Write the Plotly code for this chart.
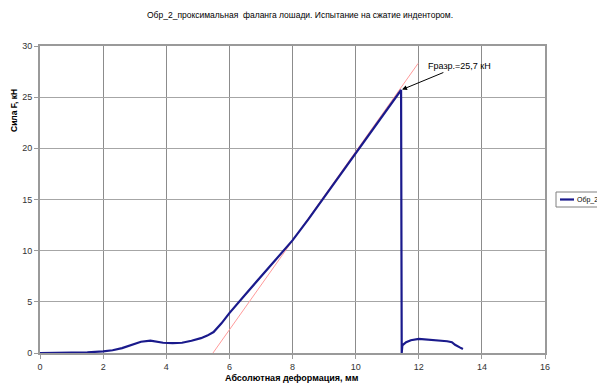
import plotly.graph_objects as go

# --- data ---
deform = [0, 0.5, 1.0, 1.5, 2.0, 2.3, 2.6, 2.9, 3.2, 3.5, 3.7, 3.9, 4.2, 4.5, 4.8, 5.1,
          5.3, 5.5, 5.75, 6.0, 6.5, 7.0, 7.5, 8.0, 8.5, 9.0, 9.5, 10.0, 10.5, 11.0, 11.44,
          11.46, 11.48, 11.6, 11.75, 12.0, 12.3, 12.6, 12.9, 13.05, 13.15, 13.3, 13.4]
force = [0, 0.01, 0.03, 0.07, 0.15, 0.27, 0.48, 0.82, 1.1, 1.2, 1.1, 1.0, 0.96, 1.0, 1.2, 1.45,
         1.7, 2.05, 2.9, 3.9, 5.7, 7.5, 9.3, 11.0, 13.05, 15.2, 17.4, 19.6, 21.75, 23.9, 25.7,
         0.0, 0.75, 1.05, 1.25, 1.37, 1.3, 1.27, 1.15, 1.05, 0.8, 0.55, 0.4]

tangent_x = [5.48, 11.98]
tangent_y = [0.0, 28.3]

peak_x = 11.44
peak_y = 25.7
peak_label = "Fразр.=25,7 кН"

series_name = "Обр_2"
title_text = "Обр_2_проксимальная  фаланга лошади. Испытание на сжатие индентором."
x_title = "Абсолютная деформация, мм"
y_title = "Сила F, кН"
x_ticks = [0, 2, 4, 6, 8, 10, 12, 14, 16]
y_ticks = [0, 5, 10, 15, 20, 25, 30]

FONT = "Liberation Sans, Arial, sans-serif"
OFF = 8  # page body margin offset
W, H = 605 - OFF, 386 - OFF
PL, PT, PW, PH = 40 - OFF, 46 - OFF, 505, 307


def px(xp):
    return (xp - OFF - PL) / PW


def py(yp):
    return 1 - (yp - OFF - PT) / PH


LINE_COLOR = "#1a1a8c"

fig = go.Figure()
fig.add_trace(go.Scatter(x=tangent_x, y=tangent_y, mode="lines",
                         line=dict(color="#ff9a9a", width=1), showlegend=False,
                         hoverinfo="skip"))
fig.add_trace(go.Scatter(x=deform, y=force, mode="lines", name=series_name,
                         line=dict(color=LINE_COLOR, width=2.2), showlegend=False))

fig.add_annotation(x=peak_x, y=peak_y, xref="x", yref="y", text=peak_label,
                   showarrow=True, arrowhead=2, arrowsize=1, arrowwidth=1,
                   arrowcolor="#000000", ax=58, ay=-24, standoff=1,
                   font=dict(family=FONT, size=9, color="#000000"))

fig.add_annotation(x=px(14), y=py(111), xref="paper", yref="paper",
                   text="<b>" + y_title + "</b>", showarrow=False, textangle=-90,
                   xanchor="center", yanchor="middle",
                   font=dict(family=FONT, size=8.5, color="#000000"))

fig.add_annotation(x=px(292), y=py(378), xref="paper", yref="paper",
                   text="<b>" + x_title + "</b>", showarrow=False,
                   xanchor="center", yanchor="middle",
                   font=dict(family=FONT, size=9, color="#000000"))

fig.add_annotation(x=px(300), y=py(15), xref="paper", yref="paper",
                   text=title_text, showarrow=False,
                   xanchor="center", yanchor="middle",
                   font=dict(family=FONT, size=8.5, color="#000000"))

# manual legend (box runs past the window edge as in the reference)
fig.add_shape(type="rect", xref="paper", yref="paper",
              x0=px(556), x1=px(640), y0=py(192), y1=py(207),
              line=dict(color="#808080", width=1), fillcolor="white")
fig.add_shape(type="line", xref="paper", yref="paper",
              x0=px(560), x1=px(574), y0=py(199.5), y1=py(199.5),
              line=dict(color=LINE_COLOR, width=2.2))
fig.add_annotation(x=px(575), y=py(199.5), xref="paper", yref="paper",
                   text=series_name, showarrow=False, xanchor="left", yanchor="middle",
                   font=dict(family=FONT, size=7, color="#000000"))

fig.update_layout(
    width=W, height=H,
    margin=dict(l=PL, r=W - PL - PW, t=PT, b=H - PT - PH, autoexpand=False),
    paper_bgcolor="white", plot_bgcolor="white",
    font=dict(family=FONT, size=9, color="#000000"),
    showlegend=False,
    xaxis=dict(range=[0, 16], tickvals=x_ticks, showgrid=True, gridcolor="#8c8c8c",
               gridwidth=1, zeroline=False, showline=True, linecolor="#9a9a9a",
               linewidth=2, mirror=True, ticks="outside", ticklen=4, tickcolor="#9a9a9a",
               tickfont=dict(family=FONT, size=9, color="#333333")),
    yaxis=dict(range=[0, 30], tickvals=y_ticks, showgrid=True, gridcolor="#a6a6a6",
               gridwidth=1, zeroline=False, showline=True, linecolor="#9a9a9a",
               linewidth=2, mirror=True, ticks="outside", ticklen=4, tickcolor="#9a9a9a",
               tickfont=dict(family=FONT, size=9, color="#333333")),
)

fig.write_html("out.html")
